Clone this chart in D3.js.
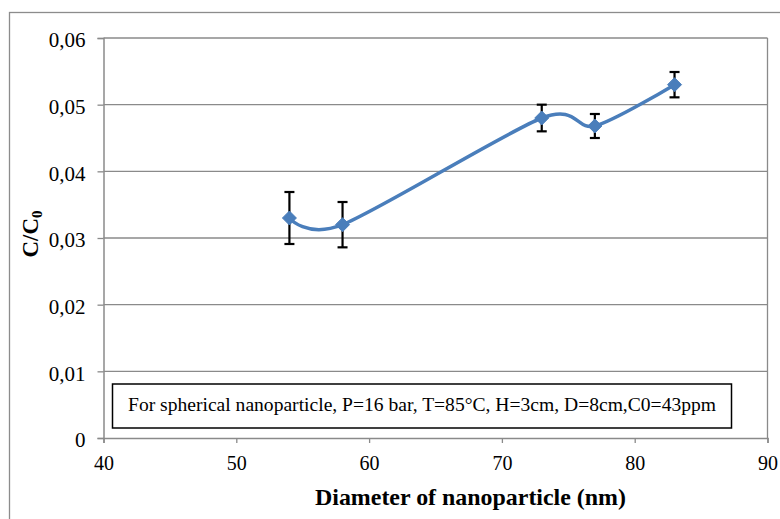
<!DOCTYPE html>
<html>
<head>
<meta charset="utf-8">
<script src="https://cdnjs.cloudflare.com/ajax/libs/d3/7.8.5/d3.min.js"></script>
<style>
  body { margin: 0; background: #fff; }
  svg { display: block; }
  svg text { font-family: "Times New Roman", "Liberation Serif", "DejaVu Serif", serif; fill: #000; }
</style>
</head>
<body>
<div id="chart"></div>
<script>
// Datos
var diameters = [54, 58, 73, 77, 83];
var ratios    = [0.033, 0.032, 0.048, 0.0468, 0.053];
var errors    = [0.0039, 0.0034, 0.002, 0.0018, 0.0019];
var xTicks = [40, 50, 60, 70, 80, 90];
var yTicks = [0, 0.01, 0.02, 0.03, 0.04, 0.05, 0.06];
var yTickLabels = ["0", "0,01", "0,02", "0,03", "0,04", "0,05", "0,06"];
var note = "For spherical nanoparticle, P=16 bar, T=85°C, H=3cm, D=8cm,C0=43ppm";

var W = 780, H = 519;
var margin = {top: 38, right: 12.5, bottom: 81, left: 103.5};
var width = W - margin.left - margin.right,
    height = H - margin.top - margin.bottom;
var serif = "'Times New Roman', 'Liberation Serif', 'DejaVu Serif', serif";

var svg = d3.select("#chart").append("svg")
    .attr("width", W)
    .attr("height", H)
    .attr("font-family", serif);

// marco exterior
svg.append("rect")
    .attr("x", 9.5).attr("y", 12.5)
    .attr("width", 800).attr("height", 600)
    .attr("fill", "none")
    .attr("stroke", "#8c8c8c")
    .attr("stroke-width", 1.3);

var g = svg.append("g")
    .attr("transform", "translate(" + margin.left + "," + margin.top + ")");

var x = d3.scaleLinear().domain([40, 90]).range([0, width]);
var y = d3.scaleLinear().domain([0, 0.06]).range([height, 0]);

// lineas de grilla
g.selectAll(".grid")
    .data(yTicks.slice(1))
    .enter().append("line")
    .attr("x1", 0).attr("x2", width)
    .attr("y1", function(d) { return y(d); })
    .attr("y2", function(d) { return y(d); })
    .attr("stroke", "#8a8a8a")
    .attr("stroke-width", 1.3);

// borde derecho del area
g.append("line")
    .attr("x1", width).attr("x2", width)
    .attr("y1", 0).attr("y2", height)
    .attr("stroke", "#8a8a8a").attr("stroke-width", 1.3);

// ejes
var xAxis = d3.axisBottom(x).tickValues(xTicks).tickSize(5).tickPadding(13)
    .tickFormat(d3.format("d"));
var yAxis = d3.axisLeft(y).tickValues(yTicks).tickSize(6).tickPadding(12)
    .tickFormat(function(d, i) { return yTickLabels[i]; });

var gx = g.append("g")
    .attr("transform", "translate(0," + height + ")")
    .call(xAxis);
var gy = g.append("g").call(yAxis);

[gx, gy].forEach(function(a) {
  a.attr("font-family", serif);
  a.select(".domain").attr("stroke", "#8a8a8a").attr("stroke-width", 1.5);
  a.selectAll(".tick line").attr("stroke", "#8a8a8a").attr("stroke-width", 1.3);
  a.selectAll(".tick text").attr("fill", "#000");
});
gx.selectAll(".tick text").attr("font-size", 20);
gy.selectAll(".tick text").attr("font-size", 21).attr("dy", "0.42em");

// cuadro de anotacion
var box = g.append("g").attr("transform", "translate(" + (112.5 - margin.left) + "," + (384 - margin.top) + ")");
box.append("rect")
    .attr("width", 619).attr("height", 44)
    .attr("fill", "#fff")
    .attr("stroke", "#000")
    .attr("stroke-width", 1.5);
box.append("text")
    .attr("x", 619 / 2).attr("y", 27)
    .attr("text-anchor", "middle")
    .attr("font-size", 19.5)
    .attr("textLength", 588)
    .attr("lengthAdjust", "spacingAndGlyphs")
    .text(note);

// barras de error
var data = diameters.map(function(d, i) {
  return {x: d, y: ratios[i], e: errors[i]};
});

var eb = g.selectAll(".err").data(data).enter().append("g")
    .attr("stroke", "#000").attr("stroke-width", 2.2);
eb.append("line")
    .attr("x1", function(d) { return x(d.x); })
    .attr("x2", function(d) { return x(d.x); })
    .attr("y1", function(d) { return y(d.y + d.e); })
    .attr("y2", function(d) { return y(d.y - d.e); });
eb.append("line")
    .attr("x1", function(d) { return x(d.x) - 5; })
    .attr("x2", function(d) { return x(d.x) + 5; })
    .attr("y1", function(d) { return y(d.y + d.e); })
    .attr("y2", function(d) { return y(d.y + d.e); });
eb.append("line")
    .attr("x1", function(d) { return x(d.x) - 5; })
    .attr("x2", function(d) { return x(d.x) + 5; })
    .attr("y1", function(d) { return y(d.y - d.e); })
    .attr("y2", function(d) { return y(d.y - d.e); });

// linea suavizada
var line = d3.line()
    .x(function(d) { return x(d.x); })
    .y(function(d) { return y(d.y); })
    .curve(d3.curveCardinal.tension(0.15));

g.append("path")
    .datum(data)
    .attr("d", line)
    .attr("fill", "none")
    .attr("stroke", "#4a7ebb")
    .attr("stroke-width", 3.5)
    .attr("stroke-linecap", "round");

// marcadores rombo
g.selectAll(".pt").data(data).enter().append("path")
    .attr("transform", function(d) { return "translate(" + x(d.x) + "," + y(d.y) + ")"; })
    .attr("d", "M0,-7L7,0L0,7L-7,0Z")
    .attr("fill", "#4a7ebb")
    .attr("stroke", "#4a7ebb")
    .attr("stroke-width", 1);

// titulos de ejes
svg.append("text")
    .attr("x", 315).attr("y", 505)
    .attr("font-size", 23)
    .attr("font-weight", "bold")
    .attr("textLength", 311)
    .attr("lengthAdjust", "spacingAndGlyphs")
    .text("Diameter of nanoparticle (nm)");

var yt = svg.append("text")
    .attr("transform", "translate(38,234) rotate(-90)")
    .attr("text-anchor", "middle")
    .attr("font-size", 23)
    .attr("font-weight", "bold");
yt.append("tspan").text("C/C");
yt.append("tspan").attr("font-size", 15).attr("dy", 4).text("0");
</script>
</body>
</html>
